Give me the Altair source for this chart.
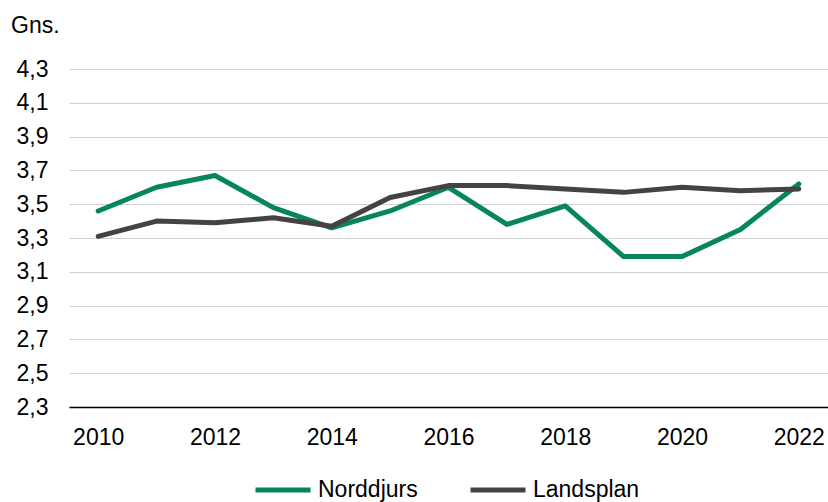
import altair as alt
import pandas as pd

years = list(range(2010, 2023))
norddjurs = [3.46, 3.60, 3.67, 3.48, 3.36, 3.46, 3.60, 3.38, 3.49, 3.19, 3.19, 3.35, 3.62]
landsplan = [3.31, 3.40, 3.39, 3.42, 3.37, 3.54, 3.61, 3.61, 3.59, 3.57, 3.60, 3.58, 3.59]
series_names = ["Norddjurs", "Landsplan"]
series_colors = ["#078657", "#434343"]
y_ticks = [2.3, 2.5, 2.7, 2.9, 3.1, 3.3, 3.5, 3.7, 3.9, 4.1, 4.3]
x_ticks = [2010, 2012, 2014, 2016, 2018, 2020, 2022]
unit_label = ["Gns."]

df = pd.DataFrame({
    "year": years * 2,
    "value": norddjurs + landsplan,
    "series": ["Norddjurs"] * len(years) + ["Landsplan"] * len(years),
})

FONT = "Liberation Sans"
FS = 23

x = alt.X("year:Q",
          scale=alt.Scale(domain=[2009.5, 2022.5], nice=False, zero=False),
          axis=alt.Axis(values=x_ticks, format="d", title=None, grid=False, ticks=False,
                        domain=True, domainColor="#000000", domainWidth=1.5,
                        labelFont=FONT, labelFontSize=FS, labelColor="#000000",
                        labelPadding=19, labelFlush=False))
y = alt.Y("value:Q",
          scale=alt.Scale(domain=[2.3, 4.3], nice=False, zero=False),
          axis=alt.Axis(values=y_ticks, title=None, grid=True, gridColor="#d0d0d0", gridWidth=1,
                        ticks=False, domain=False,
                        labelExpr="replace(format(datum.value, '.1f'), '.', ',')",
                        labelFont=FONT, labelFontSize=FS, labelColor="#000000",
                        labelPadding=21))
color = alt.Color("series:N",
                  scale=alt.Scale(domain=series_names, range=series_colors),
                  legend=alt.Legend(title=None, orient="none", direction="horizontal",
                                    legendX=184, legendY=391,
                                    symbolType="stroke", symbolSize=3025, symbolStrokeWidth=5,
                                    labelFont=FONT, labelFontSize=FS, labelColor="#000000",
                                    labelOffset=5, columnPadding=42))

base = alt.Chart(df)
green = base.transform_filter(alt.datum.series == "Norddjurs").mark_line(
    strokeWidth=5, strokeCap="round", strokeJoin="round").encode(x=x, y=y, color=color)
grey = base.transform_filter(alt.datum.series == "Landsplan").mark_line(
    strokeWidth=5, strokeCap="round", strokeJoin="round").encode(x=x, y=y, color=color)

unit = alt.Chart(pd.DataFrame({"t": unit_label})).mark_text(
    font=FONT, fontSize=FS, color="#000000", align="left", baseline="alphabetic"
).encode(text="t:N", x=alt.value(-58), y=alt.value(-36))

chart = alt.layer(green, grey, unit).properties(
    width=759, height=338,
    padding={"left": 69, "top": 69, "right": 0, "bottom": 95},
    autosize=alt.AutoSizeParams(type="none"),
).configure_view(stroke=None)

chart.save("out.html", embed_options={"renderer": "svg", "actions": False})
